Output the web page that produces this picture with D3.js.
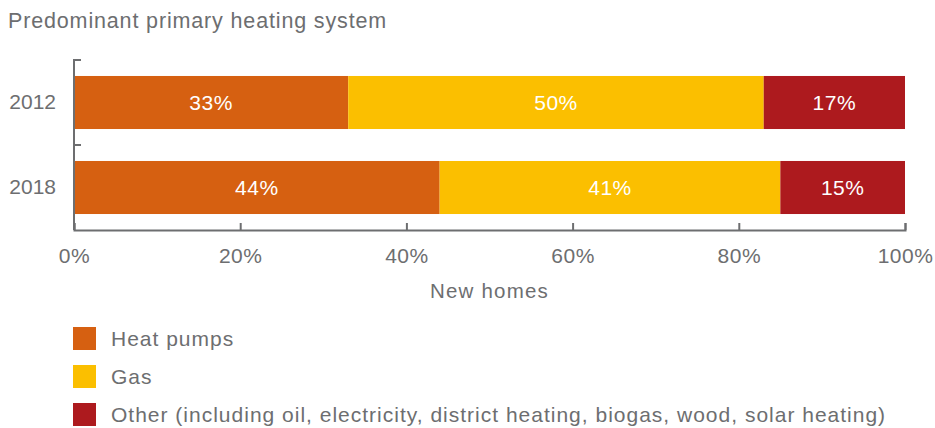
<!DOCTYPE html>
<html><head><meta charset="utf-8">
<script src="https://cdn.jsdelivr.net/npm/d3@7"></script>
<style>body{margin:0;background:#fff;} svg{display:block;} text{font-family:"Liberation Sans",Arial,sans-serif;}</style>
</head><body><svg id="c" width="935" height="428"></svg>
<script>
const years = ["2012", "2018"];
const seriesNames = ["Heat pumps", "Gas", "Other (including oil, electricity, district heating, biogas, wood, solar heating)"];
const heatPumps = [33, 44];
const gas = [50, 41];
const other = [17, 15];
const xTicks = [0, 20, 40, 60, 80, 100];
const colors = ["#D66011", "#FBBF00", "#AD1A1E"];

const svg = d3.select("#c");
const gray = "#6d6e70";
const x = d3.scaleLinear().domain([0, 100]).range([74, 905]);
const y = d3.scaleBand().domain(years).range([60, 230]).paddingInner(0.376).paddingOuter(0.188);

svg.append("text").attr("x", 8).attr("y", 28).attr("fill", gray).attr("font-size", 21.5)
  .attr("letter-spacing", 0.85).text("Predominant primary heating system");

const rows = years.map((yr, i) => ({year: yr, vals: [heatPumps[i], gas[i], other[i]]}));
rows.forEach(r => {
  let acc = 0;
  r.vals.forEach((v, k) => {
    const x0 = acc, x1 = acc + v; acc = x1;
    svg.append("rect").attr("x", x(x0)).attr("y", y(r.year)).attr("width", x(x1) - x(x0)).attr("height", y.bandwidth()).attr("fill", colors[k]);
    svg.append("text").attr("x", (x(x0) + x(x1)) / 2).attr("y", y(r.year) + y.bandwidth() / 2).attr("dy", "0.35em")
      .attr("text-anchor", "middle").attr("fill", "#fff").attr("font-size", 21).attr("letter-spacing", 0.5).text(v + "%");
  });
});

// x axis
const xa = svg.append("g").attr("transform", "translate(0,230)")
  .call(d3.axisBottom(x).tickValues(xTicks).tickFormat(d => d + "%").tickSizeInner(-7).tickSizeOuter(-7).tickPadding(18));
xa.select(".domain").attr("stroke", gray).attr("stroke-width", 2);
xa.selectAll(".tick line").attr("stroke", gray).attr("stroke-width", 2);
xa.selectAll("text").attr("fill", gray).attr("font-size", 21).attr("letter-spacing", 0.5).attr("font-family", "Liberation Sans, Arial, sans-serif");

// y axis
const ya = svg.append("g").attr("transform", "translate(74,0)")
  .call(d3.axisLeft(y).tickSize(0).tickPadding(18));
ya.select(".domain").attr("stroke", gray).attr("stroke-width", 2).attr("d", "M7,60H0V230");
ya.selectAll("text").attr("fill", gray).attr("font-size", 21).attr("font-family", "Liberation Sans, Arial, sans-serif");
ya.selectAll(".bt").data([60, 145]).enter().append("line").attr("class", "bt")
  .attr("x1", 0).attr("x2", 7).attr("y1", d => d).attr("y2", d => d).attr("stroke", gray).attr("stroke-width", 2);

svg.append("text").attr("x", x(50)).attr("y", 298).attr("text-anchor", "middle").attr("fill", gray)
  .attr("font-size", 20.5).attr("letter-spacing", 1.2).text("New homes");

const lg = svg.append("g");
seriesNames.forEach((n, i) => {
  const yy = 327 + i * 38;
  lg.append("rect").attr("x", 73).attr("y", yy).attr("width", 23).attr("height", 23).attr("fill", colors[i]);
  lg.append("text").attr("x", 111).attr("y", yy + 11.5).attr("dy", "0.36em").attr("fill", gray)
    .attr("font-size", 21).attr("letter-spacing", 1.0).text(n);
});
</script></body></html>
